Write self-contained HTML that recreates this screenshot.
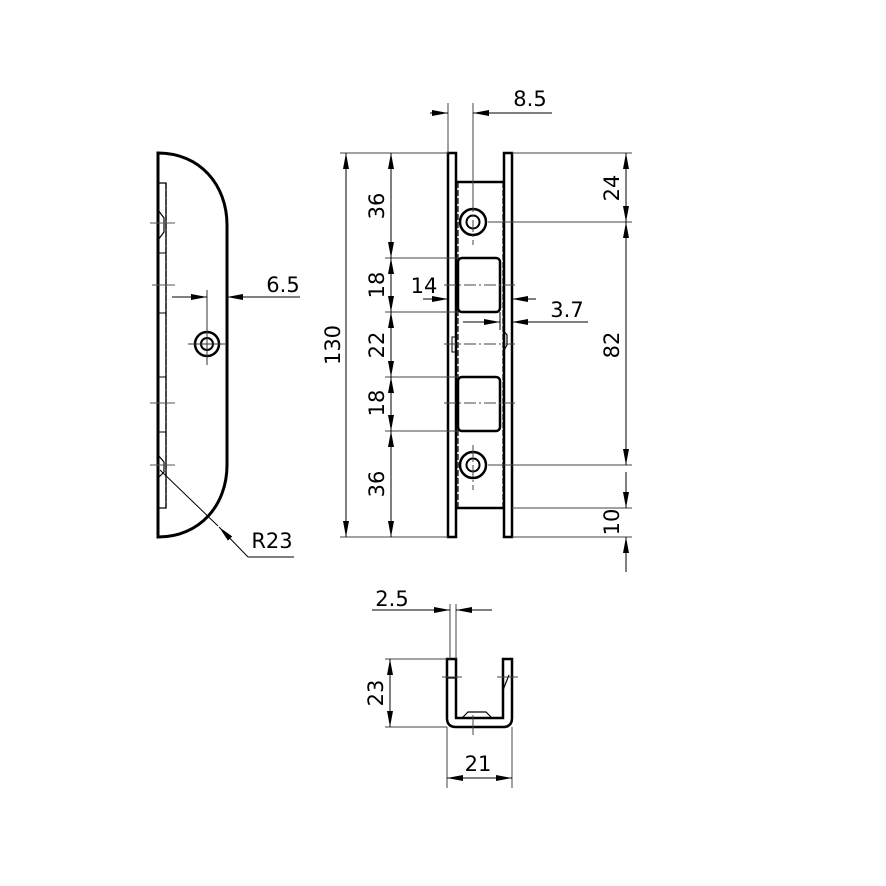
<!DOCTYPE html>
<html><head><meta charset="utf-8"><style>
html,body{margin:0;padding:0;background:#fff;width:886px;height:886px;overflow:hidden}
svg text{font-family:"DejaVu Sans","Liberation Sans",sans-serif;font-size:21px;fill:#000}
</style></head><body>
<svg width="886" height="886" viewBox="0 0 886 886" xmlns="http://www.w3.org/2000/svg">
<defs>
<marker id="a" viewBox="0 0 16 6" refX="16" refY="3" markerWidth="16" markerHeight="6" markerUnits="userSpaceOnUse" orient="auto-start-reverse">
<path d="M0,0 L16,3 L0,6 z" fill="#000"/></marker>
</defs>
<g fill="none" stroke="#000">
<!-- LEFT VIEW -->
<path d="M158,153 C200,153 227,185 227,225 L227,465 C227,505 200,537 158,537 Z" stroke-width="3"/>
<path d="M158,183 H166 V508 H158" stroke-width="1.3"/>
<line x1="166" y1="183" x2="166" y2="508" stroke-width="1" stroke-dasharray="5,3" stroke="#fff"/>
<line x1="166" y1="183" x2="166" y2="508" stroke-width="1.2" stroke-dasharray="6,2"/>
<path d="M158,253 H166 M158,313 H166 M158,377 H166 M158,432 H166" stroke-width="1"/>
<path d="M158,210 L164,218 V232 L158,240 M158,455 L164,462 V472 L158,478" stroke-width="1.2"/>
<path d="M150,223 H175 M152,285 H175 M150,403 H175 M150,465 H175" stroke="#555" stroke-width="1"/>
<circle cx="207" cy="344" r="12" stroke-width="2.5"/><circle cx="207" cy="344" r="6" stroke-width="2"/>
<path d="M188,344 H225 M207,290 V365" stroke="#333" stroke-width="1"/>
<!-- 6.5 -->
<line x1="172" y1="297" x2="207" y2="297" stroke-width="1" marker-end="url(#a)"/>
<line x1="300" y1="297" x2="227" y2="297" stroke-width="1" marker-end="url(#a)"/>
<!-- R23 -->
<line x1="160" y1="470" x2="218" y2="526" stroke-width="1"/>
<line x1="248" y1="557" x2="219" y2="527" stroke-width="1" marker-end="url(#a)"/>
<line x1="248" y1="557" x2="294" y2="557" stroke-width="1"/>

<!-- MIDDLE VIEW -->
<rect x="448" y="153" width="8" height="384" stroke-width="2.5"/>
<rect x="504" y="153" width="8" height="384" stroke-width="2.5"/>
<path d="M456,182 H504 M456,508 H504" stroke-width="2.5"/>
<path d="M458,182 V508 M503,182 V508" stroke-width="1.2" stroke-dasharray="6,2"/>
<rect x="458" y="258" width="42" height="54" rx="4" stroke-width="2.5"/>
<rect x="458" y="377" width="42" height="54" rx="4" stroke-width="2.5"/>
<circle cx="473" cy="222" r="13" stroke-width="2.5"/><circle cx="473" cy="222" r="6.5" stroke-width="2"/>
<circle cx="473" cy="465" r="13" stroke-width="2.5"/><circle cx="473" cy="465" r="6.5" stroke-width="2"/>
<path d="M452,337 H456 V352 H452 Z" stroke-width="1"/>
<path d="M503,330 L507,335 V345 L503,352" stroke-width="1.2"/>
<path d="M444,285 H515 M444,344 H515 M444,403 H515 M473,200 V245 M473,445 V490" stroke="#444" stroke-width="1" stroke-dasharray="12,3,2,3"/>
<!-- extension lines -->
<path d="M340,153 H448 M512,153 H632 M340,537 H448 M512,537 H632 M385,258 H458 M385,312 H458 M385,377 H458 M385,431 H458 M488,222 H632 M488,465 H632 M512,508 H632 M448,103 V153 M473,103 V210" stroke="#444" stroke-width="1"/>
<!-- 130 -->
<line x1="346" y1="153" x2="346" y2="537" stroke-width="1" marker-start="url(#a)" marker-end="url(#a)"/>
<line x1="391" y1="153" x2="391" y2="258" stroke-width="1" marker-start="url(#a)" marker-end="url(#a)"/>
<line x1="391" y1="258" x2="391" y2="312" stroke-width="1" marker-start="url(#a)" marker-end="url(#a)"/>
<line x1="391" y1="312" x2="391" y2="377" stroke-width="1" marker-start="url(#a)" marker-end="url(#a)"/>
<line x1="391" y1="377" x2="391" y2="431" stroke-width="1" marker-start="url(#a)" marker-end="url(#a)"/>
<line x1="391" y1="431" x2="391" y2="537" stroke-width="1" marker-start="url(#a)" marker-end="url(#a)"/>
<line x1="626" y1="153" x2="626" y2="222" stroke-width="1" marker-start="url(#a)" marker-end="url(#a)"/>
<line x1="626" y1="222" x2="626" y2="465" stroke-width="1" marker-start="url(#a)" marker-end="url(#a)"/>
<line x1="626" y1="472" x2="626" y2="508" stroke-width="1" marker-end="url(#a)"/>
<line x1="626" y1="572" x2="626" y2="537" stroke-width="1" marker-end="url(#a)"/>
<!-- 8.5 -->
<line x1="430" y1="113" x2="448" y2="113" stroke-width="1" marker-end="url(#a)"/>
<line x1="552" y1="113" x2="473" y2="113" stroke-width="1" marker-end="url(#a)"/>
<!-- 14 -->
<line x1="423" y1="299" x2="448" y2="299" stroke-width="1" marker-end="url(#a)"/>
<line x1="536" y1="299" x2="512" y2="299" stroke-width="1" marker-end="url(#a)"/>
<!-- 3.7 -->
<line x1="463" y1="322" x2="500" y2="322" stroke-width="1" marker-end="url(#a)"/>
<line x1="588" y1="322" x2="512" y2="322" stroke-width="1" marker-end="url(#a)"/>
<line x1="500" y1="312" x2="500" y2="330" stroke-width="1"/>

<!-- BOTTOM VIEW -->
<path d="M447,659 H456 V718 H503 V659 H512 V718 Q512,727 503,727 H456 Q447,727 447,718 Z" stroke-width="2.5"/>
<path d="M447,678 H456 M462,718 L468,712 H486 L492,718 M503,690 L509,675" stroke-width="1.2"/>
<path d="M442,677 H462 M497,677 H518 M473,715 V735" stroke="#444" stroke-width="1"/>
<path d="M450,604 V659 M456,604 V659 M385,659 H447 M385,727 H447 M447,727 V788 M512,727 V788" stroke="#444" stroke-width="1"/>
<line x1="372" y1="610" x2="450" y2="610" stroke-width="1" marker-end="url(#a)"/>
<line x1="492" y1="610" x2="456" y2="610" stroke-width="1" marker-end="url(#a)"/>
<line x1="390" y1="659" x2="390" y2="727" stroke-width="1" marker-start="url(#a)" marker-end="url(#a)"/>
<line x1="447" y1="778" x2="512" y2="778" stroke-width="1" marker-start="url(#a)" marker-end="url(#a)"/>
</g>
<g>
<text x="283" y="292" text-anchor="middle">6.5</text>
<text x="272" y="548" text-anchor="middle">R23</text>
<text x="530" y="106" text-anchor="middle">8.5</text>
<text x="424" y="293" text-anchor="middle">14</text>
<text x="567" y="317" text-anchor="middle">3.7</text>
<text x="392" y="606" text-anchor="middle">2.5</text>
<text x="478" y="771" text-anchor="middle">21</text>
<text transform="translate(340,345) rotate(-90)" text-anchor="middle">130</text>
<text transform="translate(384,206) rotate(-90)" text-anchor="middle">36</text>
<text transform="translate(384,285) rotate(-90)" text-anchor="middle">18</text>
<text transform="translate(384,345) rotate(-90)" text-anchor="middle">22</text>
<text transform="translate(384,403) rotate(-90)" text-anchor="middle">18</text>
<text transform="translate(384,484) rotate(-90)" text-anchor="middle">36</text>
<text transform="translate(619,188) rotate(-90)" text-anchor="middle">24</text>
<text transform="translate(619,345) rotate(-90)" text-anchor="middle">82</text>
<text transform="translate(619,522) rotate(-90)" text-anchor="middle">10</text>
<text transform="translate(383,693) rotate(-90)" text-anchor="middle">23</text>
</g>
</svg>
</body></html>
